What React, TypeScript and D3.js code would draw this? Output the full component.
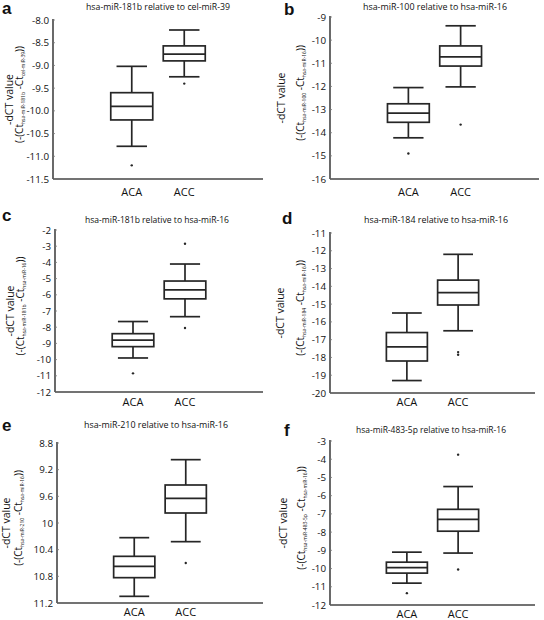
import React from "react";
import * as d3 from "d3";

const categories = ["ACA", "ACC"];
const letters = ["a", "b", "c", "d", "e", "f"];
const titles = [
  "hsa-miR-181b relative to cel-miR-39",
  "hsa-miR-100 relative to hsa-miR-16",
  "hsa-miR-181b relative to hsa-miR-16",
  "hsa-miR-184 relative to hsa-miR-16",
  "hsa-miR-210 relative to hsa-miR-16",
  "hsa-miR-483-5p relative to hsa-miR-16",
];
const subTarget = ["hsa-miR-181b", "hsa-miR-100", "hsa-miR-181b", "hsa-miR-184", "hsa-miR-210", "hsa-miR-483-5p"];
const subRef = ["cel-miR-39", "hsa-miR-16", "hsa-miR-16", "hsa-miR-16", "hsa-miR-16", "hsa-miR-16"];

// tick values for each panel
const ticksA = [-8.0, -8.5, -9.0, -9.5, -10.0, -10.5, -11.0, -11.5];
const ticksB = [-9, -10, -11, -12, -13, -14, -15, -16];
const ticksC = [-2, -3, -4, -5, -6, -7, -8, -9, -10, -11, -12];
const ticksD = [-11, -12, -13, -14, -15, -16, -17, -18, -19, -20];
const ticksE = [8.8, 9.2, 9.6, 10, 10.4, 10.8, 11.2];
const ticksF = [-3, -4, -5, -6, -7, -8, -9, -10, -11, -12];

// box stats: [lower whisker, Q1, median, Q3, upper whisker]
const aACA = [-10.78, -10.2, -9.9, -9.6, -9.02];
const aACC = [-9.25, -8.9, -8.75, -8.57, -8.22];
const bACA = [-14.22, -13.55, -13.15, -12.75, -12.05];
const bACC = [-12.02, -11.12, -10.72, -10.25, -9.38];
const cACA = [-9.9, -9.2, -8.8, -8.4, -7.65];
const cACC = [-7.35, -6.25, -5.7, -5.15, -4.1];
const dACA = [-19.3, -18.2, -17.4, -16.6, -15.5];
const dACC = [-16.5, -15.05, -14.35, -13.65, -12.2];
const eACA = [11.1, 10.82, 10.65, 10.5, 10.22];
const eACC = [10.28, 9.85, 9.63, 9.43, 9.05];
const fACA = [-10.8, -10.25, -9.95, -9.65, -9.1];
const fACC = [-9.15, -7.95, -7.3, -6.75, -5.5];

// outliers
const aACAOut = [-11.2];
const aACCOut = [-9.4];
const bACAOut = [-14.9];
const bACCOut = [-13.65];
const cACAOut = [-10.85];
const cACCOut = [-2.85, -8.05];
const dACAOut: number[] = [];
const dACCOut = [-17.7, -17.85];
const eACAOut: number[] = [];
const eACCOut = [10.6];
const fACAOut = [-11.35];
const fACCOut = [-3.75, -10.05];

type Layout = {
  ox: number; top: number; bottom: number; right: number;
  titleX: number; titleY: number; letterX: number; letterY: number;
  lab1X: number; lab2X: number; catY: number; fmt: (v: number) => string;
};

const fmt1 = (v: number) => d3.format(".1f")(v).replace("−", "-");
const fmtG = (v: number) => String(v);

const layouts: Layout[] = [
  { ox: 53, top: 20, bottom: 179, right: 263, titleX: 158, titleY: 10, letterX: 2, letterY: 14, lab1X: 9, lab2X: 19, catY: 196, fmt: fmt1 },
  { ox: 330, top: 17, bottom: 179, right: 539, titleX: 435, titleY: 10, letterX: 284, letterY: 15, lab1X: 281, lab2X: 300, catY: 196, fmt: fmtG },
  { ox: 55, top: 230, bottom: 392, right: 263, titleX: 157, titleY: 223, letterX: 2, letterY: 221, lab1X: 10, lab2X: 20, catY: 406, fmt: fmtG },
  { ox: 330, top: 233, bottom: 393, right: 535, titleX: 436, titleY: 223, letterX: 282, letterY: 224, lab1X: 280, lab2X: 300, catY: 406, fmt: fmtG },
  { ox: 57, top: 443, bottom: 603, right: 263, titleX: 156, titleY: 428, letterX: 2, letterY: 431, lab1X: 6, lab2X: 18, catY: 616, fmt: fmtG },
  { ox: 330, top: 441, bottom: 605, right: 535, titleX: 431, titleY: 433, letterX: 284, letterY: 436, lab1X: 283, lab2X: 301, catY: 618, fmt: fmtG },
];

const ticksAll = [ticksA, ticksB, ticksC, ticksD, ticksE, ticksF];
const statsAll = [[aACA, aACC], [bACA, bACC], [cACA, cACC], [dACA, dACC], [eACA, eACC], [fACA, fACC]];
const outAll = [[aACAOut, aACCOut], [bACAOut, bACCOut], [cACAOut, cACCOut], [dACAOut, dACCOut], [eACAOut, eACCOut], [fACAOut, fACCOut]];

const FONT = "'Open Sans', Roboto, sans-serif";
const INK = "#262626";
const TXT = "#111";

function Panel({ i }: { i: number }) {
  const L = layouts[i];
  const ticks = ticksAll[i];
  const y = d3.scaleLinear().domain([ticks[0], ticks[ticks.length - 1]]).range([L.top, L.bottom]);
  const x = d3.scaleLinear().domain([-0.5, 3.5]).range([L.ox, L.right]);
  const unit = x(1) - x(0);
  const boxW = unit * 0.8;
  const capW = unit * 0.58;
  const midY = (L.top + L.bottom) / 2;
  return (
    <g>
      <text x={L.letterX} y={L.letterY} fontFamily="Arial, 'Liberation Sans', sans-serif" fontWeight="bold" fontSize={17} fill="#111">{letters[i]}</text>
      <text x={L.titleX} y={L.titleY} textAnchor="middle" fontFamily={FONT} fontSize={8.6} fill={TXT} textLength={titles[i].length > 36 ? 150 : 144} lengthAdjust="spacingAndGlyphs">{titles[i]}</text>
      {/* axes */}
      <line x1={L.ox} x2={L.ox} y1={L.top - 1} y2={L.bottom} stroke="#444" strokeWidth={1.6} />
      <line x1={L.ox} x2={L.right} y1={L.bottom} y2={L.bottom} stroke="#444" strokeWidth={1.6} />
      {ticks.map((t, k) => (
        <g key={k}>
          <line x1={L.ox} x2={L.ox + 2} y1={y(t)} y2={y(t)} stroke="#777" strokeWidth={0.8} />
          <text x={L.ox - 4} y={y(t)} dy="0.36em" textAnchor="end" fontFamily={FONT} fontSize={9.8} fill={TXT}>{L.fmt(t)}</text>
        </g>
      ))}
      {categories.map((c, k) => (
        <text key={c} x={x(k + 1)} y={L.catY} textAnchor="middle" fontFamily={FONT} fontSize={11} fill={TXT}>{c}</text>
      ))}
      {/* y label */}
      <text transform={`translate(${L.lab1X + 4},${midY}) rotate(-90)`} textAnchor="middle" fontFamily={FONT} fontSize={10.5} fill={TXT}>-dCT value</text>
      <text transform={`translate(${L.lab2X + 3.5},${midY - 5}) rotate(-90)`} textAnchor="middle" fontFamily={FONT} fontSize={10} fill={TXT}>
        (-(Ct<tspan fontSize={5} dy={2}>{subTarget[i]}</tspan><tspan dy={-2}> -Ct</tspan><tspan fontSize={5} dy={2}>{subRef[i]}</tspan><tspan dy={-2}>))</tspan>
      </text>
      {/* boxes */}
      {statsAll[i].map((s, k) => {
        const cx = x(k + 1);
        const [lo, q1, med, q3, hi] = s;
        const yq1 = y(q1), yq3 = y(q3);
        return (
          <g key={k} stroke={INK} strokeWidth={1.7} fill="none">
            <line x1={cx} x2={cx} y1={y(hi)} y2={Math.min(yq1, yq3)} />
            <line x1={cx} x2={cx} y1={Math.max(yq1, yq3)} y2={y(lo)} />
            <line x1={cx - capW / 2} x2={cx + capW / 2} y1={y(hi)} y2={y(hi)} />
            <line x1={cx - capW / 2} x2={cx + capW / 2} y1={y(lo)} y2={y(lo)} />
            <rect x={cx - boxW / 2} width={boxW} y={Math.min(yq1, yq3)} height={Math.abs(yq1 - yq3)} fill="white" />
            <line x1={cx - boxW / 2} x2={cx + boxW / 2} y1={y(med)} y2={y(med)} />
          </g>
        );
      })}
      {outAll[i].map((arr, k) =>
        arr.map((v, j) => <circle key={`${k}-${j}`} cx={x(k + 1)} cy={y(v)} r={1.2} fill={INK} />)
      )}
    </g>
  );
}

export default function App() {
  return (
    <svg width={544} height={620} style={{ position: "absolute", left: 0, top: 0, background: "white" }}>
      <rect width={544} height={620} fill="white" />
      {letters.map((_, i) => <Panel key={i} i={i} />)}
    </svg>
  );
}
